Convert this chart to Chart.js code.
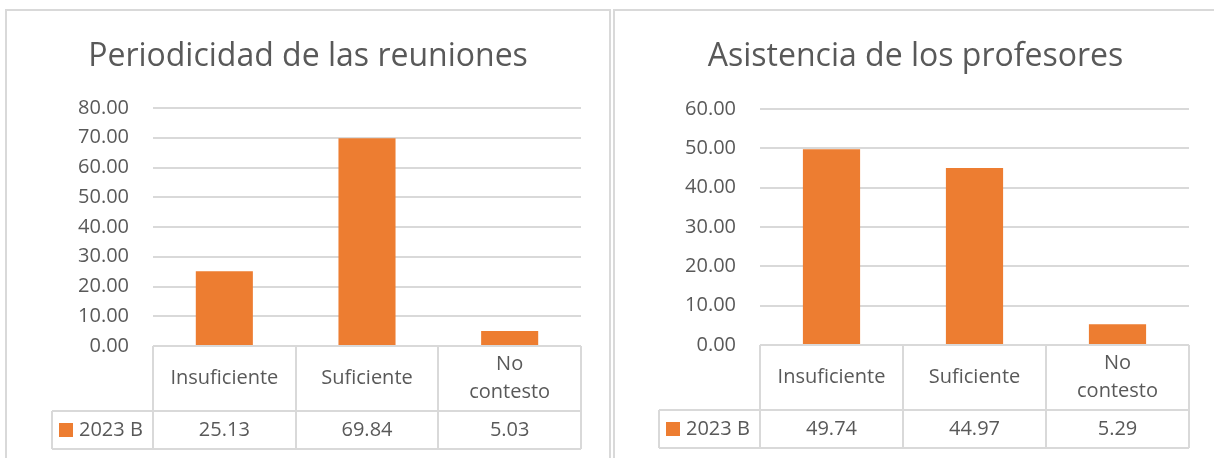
<!DOCTYPE html>
<html>
<head>
<meta charset="utf-8">
<script src="https://cdn.jsdelivr.net/npm/chart.js@4.4.0/dist/chart.umd.min.js"></script>
<style>
html, body { margin: 0; padding: 0; background: #fff; overflow: hidden; width: 1214px; height: 458px; }
.frame { position: absolute; top: 9px; height: 520px; border: 2px solid #d9d9d9; box-sizing: border-box; }
#frameA { left: 5px; width: 606px; }
#frameB { left: 613px; width: 610px; }
.box { position: absolute; top: 0; height: 458px; }
#boxA { left: 0; width: 610px; }
#boxB { left: 607px; width: 611px; }
</style>
</head>
<body>
<div class="frame" id="frameA"></div>
<div class="frame" id="frameB"></div>
<div class="box" id="boxA"><canvas id="chartA"></canvas></div>
<div class="box" id="boxB"><canvas id="chartB"></canvas></div>
<script>
// datos
const categories = ['Insuficiente', 'Suficiente', ['No', 'contesto']];
const seriesName = '2023 B';
const reunionesValues = [25.13, 69.84, 5.03];
const profesoresValues = [49.74, 44.97, 5.29];
const reunionesTitle = 'Periodicidad de las reuniones';
const profesoresTitle = 'Asistencia de los profesores';
const reunionesMax = 80;
const profesoresMax = 60;

const textColor = '#595959';
const lineColor = '#d9d9d9';
const barColor = '#ED7D31';
const fontFamily = '"Open Sans"';

// tabla de datos debajo del eje (como en Excel)
const dataTable = {
    id: 'dataTable',
    afterDraw(chart) {
        const ctx = chart.ctx;
        const area = chart.chartArea;
        const xScale = chart.scales.x;
        const labels = chart.data.labels;
        const ds = chart.data.datasets[0];
        const rowTop = area.bottom + 65;
        const rowBottom = area.bottom + 103;
        const keyLeft = area.left - 101;

        ctx.save();
        ctx.strokeStyle = lineColor;
        ctx.lineWidth = 2;
        ctx.beginPath();
        ctx.moveTo(area.left, area.bottom); ctx.lineTo(area.right, area.bottom);
        ctx.moveTo(keyLeft, rowTop); ctx.lineTo(area.right, rowTop);
        ctx.moveTo(keyLeft, rowBottom); ctx.lineTo(area.right, rowBottom);
        ctx.moveTo(keyLeft, rowTop); ctx.lineTo(keyLeft, rowBottom);
        for (let i = 0; i <= labels.length; i++) {
            const cx = Math.round(xScale.getPixelForValue(i - 0.5));
            ctx.moveTo(cx, area.bottom); ctx.lineTo(cx, rowBottom);
        }
        ctx.stroke();

        ctx.fillStyle = textColor;
        ctx.font = '20px ' + fontFamily;
        ctx.textAlign = 'center';
        ctx.textBaseline = 'middle';
        const headMid = (area.bottom + rowTop) / 2;
        const lineH = 28.5;
        labels.forEach((label, i) => {
            const lines = Array.isArray(label) ? label : [label];
            const cx = xScale.getPixelForValue(i);
            const y0 = headMid - (lines.length - 1) * lineH / 2;
            lines.forEach((l, j) => ctx.fillText(l, cx, y0 + j * lineH));
        });

        const valMid = (rowTop + rowBottom) / 2;
        ds.data.forEach((v, i) => {
            ctx.fillText(v.toFixed(2), xScale.getPixelForValue(i), valMid);
        });

        ctx.fillStyle = ds.backgroundColor;
        ctx.fillRect(area.left - 94, valMid - 7, 14, 14);
        ctx.fillStyle = textColor;
        ctx.textAlign = 'left';
        ctx.fillText(ds.label, area.left - 74, valMid);
        ctx.restore();
    }
};

function makeChart(canvasId, title, values, maxY, topPad, bottomPad) {
    const ctx = document.getElementById(canvasId).getContext('2d');
    return new Chart(ctx, {
        type: 'bar',
        data: {
            labels: categories,
            datasets: [{
                label: seriesName,
                data: values,
                backgroundColor: barColor,
                barPercentage: 0.4,
                categoryPercentage: 1
            }]
        },
        options: {
            responsive: true,
            maintainAspectRatio: false,
            animation: false,
            layout: {
                padding: { left: 35, right: 29, top: 0, bottom: bottomPad }
            },
            plugins: {
                legend: { display: false },
                tooltip: { enabled: false },
                title: {
                    display: true,
                    text: title,
                    color: textColor,
                    font: { family: fontFamily, size: 32, weight: 'normal' },
                    padding: { top: 38, bottom: topPad }
                }
            },
            scales: {
                x: { display: false },
                y: {
                    min: 0,
                    max: maxY,
                    border: { display: false },
                    grid: { color: lineColor, lineWidth: 2, drawTicks: false },
                    ticks: {
                        stepSize: 10,
                        padding: 24,
                        color: textColor,
                        font: { family: fontFamily, size: 20 },
                        callback: v => v.toFixed(2)
                    },
                    afterFit: scale => { scale.width = 118; }
                }
            }
        },
        plugins: [dataTable]
    });
}

makeChart('chartA', reunionesTitle, reunionesValues, reunionesMax, 31.6, 112);
makeChart('chartB', profesoresTitle, profesoresValues, profesoresMax, 32.6, 113);
</script>
</body>
</html>
